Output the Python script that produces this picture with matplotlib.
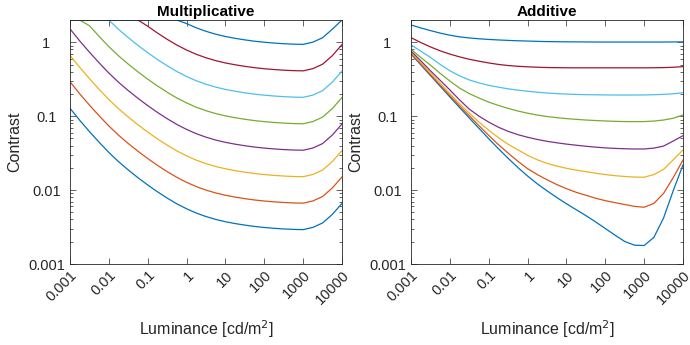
import numpy as np
import matplotlib
matplotlib.use("Agg")
import matplotlib.pyplot as plt

plt.rcParams['font.family'] = ['Liberation Sans', 'DejaVu Sans']

# luminance sample points [cd/m^2], quarter decades from 0.001 to 10000
lum = np.logspace(-3, 4, 29)

# contrast values, stored as log10(contrast)
# Multiplicative noise, bottom curve to top curve (0.301 = clipped at 2)
mult_1 = [-0.893, -1.056, -1.208, -1.353, -1.491, -1.616, -1.728, -1.833, -1.931, -2.023,
          -2.108, -2.186, -2.253, -2.311, -2.358, -2.397, -2.428, -2.453, -2.474, -2.492,
          -2.506, -2.517, -2.526, -2.532, -2.535, -2.505, -2.445, -2.330, -2.180]
mult_2 = [-0.535, -0.698, -0.850, -0.995, -1.133, -1.258, -1.370, -1.475, -1.573, -1.665,
          -1.750, -1.828, -1.895, -1.953, -2.000, -2.039, -2.070, -2.095, -2.116, -2.134,
          -2.148, -2.159, -2.168, -2.174, -2.177, -2.147, -2.087, -1.972, -1.822]
mult_3 = [-0.177, -0.340, -0.492, -0.637, -0.775, -0.900, -1.012, -1.117, -1.215, -1.307,
          -1.392, -1.470, -1.537, -1.595, -1.642, -1.681, -1.712, -1.737, -1.758, -1.776,
          -1.790, -1.801, -1.810, -1.816, -1.819, -1.789, -1.729, -1.614, -1.464]
mult_4 = [0.181, 0.018, -0.134, -0.279, -0.417, -0.542, -0.654, -0.759, -0.857, -0.949,
          -1.034, -1.112, -1.179, -1.237, -1.284, -1.323, -1.354, -1.379, -1.400, -1.418,
          -1.432, -1.443, -1.452, -1.458, -1.461, -1.431, -1.371, -1.256, -1.106]
mult_5 = [0.301, 0.301, 0.224, 0.079, -0.059, -0.184, -0.296, -0.401, -0.499, -0.591,
          -0.676, -0.754, -0.821, -0.879, -0.926, -0.965, -0.996, -1.021, -1.042, -1.060,
          -1.074, -1.085, -1.094, -1.100, -1.103, -1.073, -1.013, -0.898, -0.748]
mult_6 = [0.301, 0.301, 0.301, 0.301, 0.299, 0.174, 0.062, -0.043, -0.141, -0.233,
          -0.318, -0.396, -0.463, -0.521, -0.568, -0.607, -0.638, -0.663, -0.684, -0.702,
          -0.716, -0.727, -0.736, -0.742, -0.745, -0.715, -0.655, -0.540, -0.390]
mult_7 = [0.301, 0.301, 0.301, 0.301, 0.301, 0.301, 0.301, 0.301, 0.217, 0.125,
          0.040, -0.038, -0.105, -0.163, -0.210, -0.249, -0.280, -0.305, -0.326, -0.344,
          -0.358, -0.369, -0.378, -0.384, -0.387, -0.357, -0.297, -0.182, -0.032]
mult_8 = [0.301, 0.301, 0.301, 0.301, 0.301, 0.301, 0.301, 0.301, 0.301, 0.301,
          0.301, 0.301, 0.253, 0.195, 0.148, 0.109, 0.078, 0.053, 0.032, 0.014,
          0.000, -0.011, -0.020, -0.026, -0.029, 0.001, 0.061, 0.176, 0.301]

# Additive noise, bottom curve to top curve
add_1 = [-0.160, -0.305, -0.450, -0.595, -0.740, -0.883, -1.025, -1.165, -1.305, -1.440,
         -1.570, -1.695, -1.810, -1.915, -2.010, -2.100, -2.185, -2.265, -2.345, -2.430,
         -2.520, -2.610, -2.695, -2.745, -2.750, -2.640, -2.378, -2.006, -1.660]
add_2 = [-0.149, -0.293, -0.437, -0.580, -0.720, -0.860, -0.995, -1.130, -1.260, -1.385,
         -1.500, -1.610, -1.710, -1.790, -1.860, -1.925, -1.980, -2.030, -2.070, -2.110,
         -2.143, -2.170, -2.195, -2.220, -2.232, -2.180, -2.045, -1.830, -1.593]
add_3 = [-0.135, -0.275, -0.415, -0.555, -0.695, -0.830, -0.960, -1.080, -1.190, -1.290,
         -1.380, -1.455, -1.530, -1.590, -1.638, -1.675, -1.705, -1.730, -1.750, -1.772,
         -1.790, -1.805, -1.816, -1.824, -1.826, -1.790, -1.720, -1.590, -1.457]
add_4 = [-0.118, -0.250, -0.385, -0.515, -0.645, -0.780, -0.905, -1.000, -1.080, -1.150,
         -1.205, -1.250, -1.285, -1.315, -1.340, -1.360, -1.378, -1.393, -1.407, -1.419,
         -1.429, -1.436, -1.441, -1.444, -1.444, -1.432, -1.405, -1.336, -1.264]
add_5 = [-0.095, -0.205, -0.310, -0.420, -0.525, -0.620, -0.695, -0.755, -0.810, -0.855,
         -0.895, -0.930, -0.960, -0.985, -1.005, -1.020, -1.033, -1.043, -1.052, -1.059,
         -1.065, -1.070, -1.073, -1.074, -1.073, -1.066, -1.052, -1.028, -0.984]
add_6 = [-0.035, -0.120, -0.205, -0.300, -0.385, -0.455, -0.510, -0.550, -0.582, -0.608,
         -0.630, -0.648, -0.663, -0.676, -0.687, -0.695, -0.701, -0.706, -0.709, -0.711,
         -0.713, -0.714, -0.714, -0.714, -0.713, -0.710, -0.705, -0.697, -0.682]
add_7 = [0.062, -0.003, -0.063, -0.116, -0.160, -0.198, -0.230, -0.256, -0.280, -0.300,
         -0.315, -0.325, -0.332, -0.338, -0.342, -0.344, -0.345, -0.346, -0.346, -0.346,
         -0.346, -0.346, -0.346, -0.346, -0.346, -0.345, -0.343, -0.338, -0.330]
add_8 = [0.234, 0.194, 0.158, 0.124, 0.095, 0.073, 0.058, 0.047, 0.038, 0.031,
         0.025, 0.020, 0.016, 0.012, 0.009, 0.007, 0.006, 0.005, 0.004, 0.003,
         0.003, 0.003, 0.003, 0.003, 0.003, 0.003, 0.003, 0.004, 0.005]

mult_curves = [mult_1, mult_2, mult_3, mult_4, mult_5, mult_6, mult_7, mult_8]
add_curves = [add_1, add_2, add_3, add_4, add_5, add_6, add_7, add_8]

# MATLAB default line colours
colors = ['#0072BD', '#D95319', '#EDB120', '#7E2F8E', '#77AC30', '#4DBEEE',
          '#A2142F', '#0072BD']

xticks = [0.001, 0.01, 0.1, 1, 10, 100, 1000, 10000]
xticklabels = ['0.001', '0.01', '0.1', '1', '10', '100', '1000', '10000']
yticks = [0.001, 0.01, 0.1, 1]
yticklabels = ['0.001', '0.01', '0.1', '1']

fig = plt.figure(figsize=(6.9, 3.45), dpi=100)
ax1 = fig.add_axes([70 / 690, 1 - 264 / 345, 272 / 690, 244 / 345])
ax2 = fig.add_axes([411 / 690, 1 - 264 / 345, 272 / 690, 244 / 345])

for ax, curves, title in [(ax1, mult_curves, 'Multiplicative'),
                          (ax2, add_curves, 'Additive')]:
    for vals, col in zip(curves, colors):
        ax.plot(lum, 10 ** np.array(vals), color=col, lw=0.9)
    ax.set_xscale('log')
    ax.set_yscale('log')
    ax.set_xlim(0.001, 10000)
    ax.set_ylim(0.001, 2)
    ax.set_xticks(xticks)
    ax.set_xticklabels(xticklabels, rotation=45, ha='right', va='top',
                       rotation_mode='anchor')
    ax.set_yticks(yticks)
    ax.set_yticklabels(yticklabels)
    for lab in ax.get_yticklabels():
        lab.set_horizontalalignment('center')
    ax.tick_params(which='both', direction='in', top=True, right=True,
                   labelsize=10.5, colors='0.15', width=0.5)
    ax.tick_params(which='major', length=4)
    ax.tick_params(which='minor', length=2)
    ax.tick_params(axis='y', which='major', pad=17)
    ax.tick_params(axis='x', which='major', pad=3)
    for sp in ax.spines.values():
        sp.set_color('0.15')
        sp.set_linewidth(0.6)
    ax.set_title(title, fontsize=11, fontweight='bold', pad=3)
    ax.set_xlabel('Luminance [cd/m$^2$]', fontsize=11.5, color='0.15', labelpad=8)
    ax.set_ylabel('Contrast', fontsize=11.5, color='0.15', labelpad=4)

fig.savefig('out.png', dpi=100)
